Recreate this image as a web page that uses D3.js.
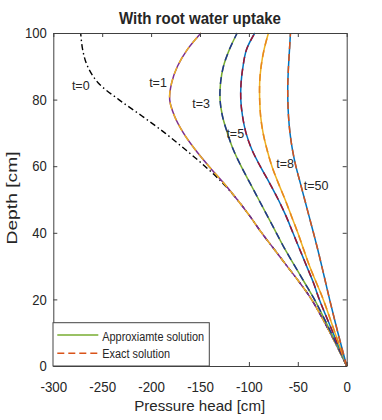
<!DOCTYPE html>
<html><head><meta charset="utf-8">
<script src="https://cdn.jsdelivr.net/npm/d3@7"></script>
<style>body{margin:0;background:#fff}svg{display:block}text{font-family:"Liberation Sans",Arial,sans-serif;fill:#262626}</style>
</head><body><svg id="c" width="382" height="420"></svg>
<script>
const depth = [0,10,20,25,30,35,40,45,50,55,60,65,70,75,80,85,90,95,100];
const h_t0  = [0,-17,-36,-48,-61,-74,-87,-99,-112,-127,-145,-165,-186,-209,-233,-254,-265,-270,-272];
const h_t1  = [0,-17,-36,-48,-61,-74,-87,-99,-112,-126,-141,-155,-167,-176,-181,-179,-173,-163,-149];
const h_t3  = [0,-16,-33,-43,-53,-63,-72,-81,-90,-99,-108,-116,-122,-127,-129.5,-129,-126,-120,-112];
const h_t5  = [0,-14,-28,-34,-41,-48,-55,-62,-70,-79,-88.5,-97,-103,-106.5,-108.3,-108,-106,-102.5,-94];
const h_t8  = [0,-12,-24,-31,-38,-44,-50,-56.5,-63,-70,-76.5,-81.5,-85.5,-88,-89,-89,-87.5,-84.5,-80];
const h_t50 = [0,-9,-17.5,-21.5,-25.5,-29.6,-34,-38.5,-43,-47.5,-52,-55.5,-58,-59.5,-60.2,-60.2,-59.5,-58.5,-57.5];
const timeLabels = ["t=0","t=1","t=3","t=5","t=8","t=50"];
const labelH = [-281,-202,-158,-123,-72,-44];
const labelZ = [82.9,83.9,77.5,68.4,59.4,52.9];
const xTicks = [-300,-250,-200,-150,-100,-50,0];
const yTicks = [0,20,40,60,80,100];
const legendLabels = ["Approxiamte solution","Exact solution"];

const svg = d3.select("#c");
const L=53.3,R=346.7,T=33,B=366;
const x = d3.scaleLinear().domain([-300,0]).range([L,R]);
const y = d3.scaleLinear().domain([0,100]).range([B,T]);
const line = d3.line().x(d=>x(d[0])).y(d=>y(d[1])).curve(d3.curveCatmullRom);
const pts = arr => arr.map((v,i)=>[v,depth[i]]);

// t=0 initial condition
svg.append("path").attr("d",line(pts(h_t0))).attr("fill","none").attr("stroke","#000")
  .attr("stroke-width",1.4).attr("stroke-dasharray","6,3,1.5,3");

const series = [
  {h:h_t1, solid:"#7E2F8E", dash:"#EDB120"},
  {h:h_t3, solid:"#77AC30", dash:"#1f3590"},
  {h:h_t5, solid:"#0072BD", dash:"#A2142F"},
  {h:h_t8, solid:"#EDB120", dash:"#E8871E"},
  {h:h_t50,solid:"#0072BD", dash:"#D95319"}
];
series.forEach(s=>{
  svg.append("path").attr("d",line(pts(s.h))).attr("fill","none").attr("stroke",s.solid).attr("stroke-width",1.5);
  svg.append("path").attr("d",line(pts(s.h))).attr("fill","none").attr("stroke",s.dash).attr("stroke-width",1.5).attr("stroke-dasharray","7,5");
});

// labels
timeLabels.forEach((t,i)=>{
  svg.append("text").attr("x",x(labelH[i])).attr("y",y(labelZ[i])).attr("font-size",12.5).text(t);
});

function condense(sel,f){sel.each(function(){const w=this.getComputedTextLength();d3.select(this).attr("textLength",w*f).attr("lengthAdjust","spacingAndGlyphs");});}

// axes
const ac="#404040";
const gx=svg.append("g").attr("transform",`translate(0,${B})`).call(d3.axisBottom(x).tickValues(xTicks).tickSizeInner(-4).tickSizeOuter(0).tickPadding(15.5).tickFormat(d3.format("d")));
const gy=svg.append("g").attr("transform",`translate(${L},0)`).call(d3.axisLeft(y).tickValues(yTicks).tickSizeInner(-4).tickSizeOuter(0).tickPadding(6.6));
const gt=svg.append("g").attr("transform",`translate(0,${T})`).call(d3.axisTop(x).tickValues(xTicks).tickSizeInner(-4).tickSizeOuter(0).tickFormat(""));
const gr=svg.append("g").attr("transform",`translate(${R},0)`).call(d3.axisRight(y).tickValues(yTicks).tickSizeInner(-4).tickSizeOuter(0).tickFormat(""));
[gx,gy,gt,gr].forEach(g=>{g.selectAll("path,line").attr("stroke",ac);g.selectAll("text").attr("font-size",14.5).attr("font-family",null).attr("fill","#262626");});
gx.selectAll("text").text(d=>d===0?"0":"-"+Math.abs(d)).call(condense,0.92);
gy.selectAll("text").call(condense,0.9);

// titles
svg.append("text").attr("x",200).attr("y",24).attr("text-anchor","middle").attr("font-size",17).attr("font-weight","bold").attr("fill","#000")
  .attr("textLength",162).attr("lengthAdjust","spacingAndGlyphs").text("With root water uptake");
svg.append("text").attr("x",199.7).attr("y",411).attr("text-anchor","middle").attr("font-size",15)
  .attr("textLength",131).attr("lengthAdjust","spacingAndGlyphs").text("Pressure head [cm]");
svg.append("text").attr("transform","translate(17,198) rotate(-90)").attr("text-anchor","middle").attr("font-size",15)
  .attr("textLength",93).attr("lengthAdjust","spacingAndGlyphs").text("Depth [cm]");

// legend
const lg=svg.append("g");
lg.append("rect").attr("x",53).attr("y",322.7).attr("width",156.3).attr("height",B-322.7).attr("fill","#fff").attr("stroke","#444").attr("stroke-width",1);
lg.append("line").attr("x1",57.3).attr("x2",98.3).attr("y1",335).attr("y2",335).attr("stroke","#77AC30").attr("stroke-width",1.5);
lg.append("line").attr("x1",57.3).attr("x2",98.3).attr("y1",353.3).attr("y2",353.3).attr("stroke","#D95319").attr("stroke-width",1.5).attr("stroke-dasharray","7,4");
lg.append("text").attr("x",102.3).attr("y",340.7).attr("font-size",12.5).attr("textLength",101.7).attr("lengthAdjust","spacingAndGlyphs").text(legendLabels[0]);
lg.append("text").attr("x",102.3).attr("y",358.3).attr("font-size",12.5).attr("textLength",67.7).attr("lengthAdjust","spacingAndGlyphs").text(legendLabels[1]);
</script></body></html>
